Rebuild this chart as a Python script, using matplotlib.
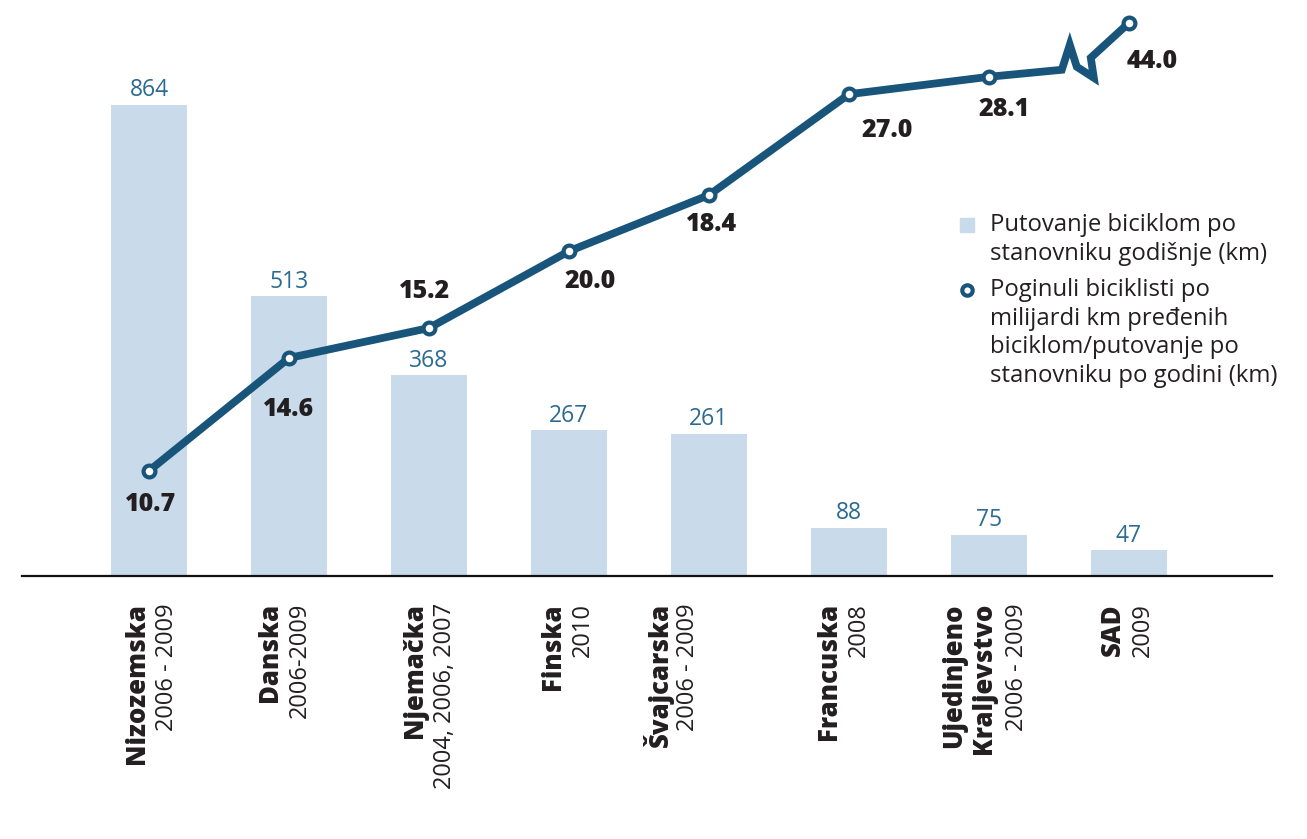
import matplotlib
matplotlib.use("Agg")
import matplotlib.pyplot as plt
from matplotlib.lines import Line2D
import matplotlib.transforms as mtransforms
import numpy as np

# ---- data ----
countries = ["Nizozemska", "Danska", "Njemačka", "Finska", "Švajcarska",
             "Francuska", "Ujedinjeno\nKraljevstvo", "SAD"]
periods = ["2006 - 2009", "2006-2009", "2004, 2006, 2007", "2010", "2006 - 2009",
           "2008", "2006 - 2009", "2009"]
km_per_capita = [864, 513, 368, 267, 261, 88, 75, 47]
deaths_per_bn_km = [10.7, 14.6, 15.2, 20.0, 18.4, 27.0, 28.1, 44.0]
# plotted height of the (decorative, rank-ordered) line, in bar units
line_level = [193, 400, 455, 596, 699, 884, 916, 1015]

legend_bar = "Putovanje biciklom po\nstanovniku godišnje (km)"
legend_line = ("Poginuli biciklisti po\nmilijardi km pređenih\n"
               "biciklom/putovanje po\nstanovniku po godini (km)")

# ---- styles ----
BAR_C = "#c9daea"
LINE_C = "#19557a"
BAR_TXT = "#2c6a91"
DARK = "#231f20"
FONT = "Open Sans"
HEAVY = 800

plt.rcParams["font.family"] = [FONT, "DejaVu Sans"]

W, H = 1307, 839
fig = plt.figure(figsize=(W / 100, H / 100), dpi=100)
ax = fig.add_axes([22 / W, (H - 576) / H, (1272 - 22) / W, 576 / H])

x = np.arange(len(countries))
ax.bar(x, km_per_capita, width=0.536, color=BAR_C, zorder=1)
ax.set_xlim((22 - 149) / 140, (1272 - 149) / 140)
ax.set_ylim(0, 576 / 0.545)

for s in ["top", "right", "left"]:
    ax.spines[s].set_visible(False)
ax.spines["bottom"].set_linewidth(1.6)
ax.spines["bottom"].set_color("#111111")
ax.set_yticks([])
ax.set_xticks([])

# bar value labels
for xi, v in zip(x, km_per_capita):
    ax.annotate(f"{v}", (xi, v), xytext=(0, 2), textcoords="offset points",
                ha="center", va="bottom", fontsize=16.5, color=BAR_TXT, zorder=3)

# ---- line with break before last point ----
lw = 5.6
ax.plot(x[:-1], line_level[:-1], color=LINE_C, lw=lw, solid_capstyle="butt",
        solid_joinstyle="miter", zorder=4)

# break glyph: anchor a little past the 7th point, offsets in pixels
to_disp = ax.transData.transform
to_data = ax.transData.inverted().transform
p7 = to_disp((x[-2], line_level[-2]))
p8 = to_disp((x[-1], line_level[-1]))
anchor = np.array([p7[0] + 0.52 * (p8[0] - p7[0]), p7[1] + 7])
zig = np.array([(0, 0), (8, 25), (15, 3), (32, -8), (29, 12)], dtype=float)
pts_disp = np.vstack([p7, anchor + zig, p8])
pts = to_data(pts_disp)
ax.plot(pts[:, 0], pts[:, 1], color=LINE_C, lw=lw, solid_joinstyle="miter",
        solid_capstyle="butt", zorder=4)

ax.plot(x, line_level, ls="none", marker="o", ms=8.5, mew=3.0,
        mfc="white", mec=LINE_C, zorder=5)

# value labels for the line (offsets in pixels -> points)
lab_off_px = [(2, -34), (0, -52), (-4, 37), (21, -30), (3, -29), (38, -36), (15, -33), (23, -39)]
for xi, yl, v, (dx, dy) in zip(x, line_level, deaths_per_bn_km, lab_off_px):
    ax.annotate(f"{v:.1f}", (xi, yl), xytext=(dx * 0.72, dy * 0.72),
                textcoords="offset points", ha="center", va="center",
                fontsize=18, fontweight=HEAVY, color=DARK, zorder=6)

# ---- category labels (rotated) ----
label_shift_px = [3, -4, 1, -1, -36, -5, 0, -1]
trans = mtransforms.blended_transform_factory(ax.transData, ax.transAxes)
for xi, name, per, sh in zip(x, countries, periods, label_shift_px):
    nlines = name.count("\n") + 1
    name_dx = sh - 15
    date_dx = sh + 15
    if nlines > 1:
        name_dx = sh - 20
        date_dx = sh + 28
    ax.annotate(name, (xi, 0), xycoords=trans,
                xytext=(name_dx * 0.72, -27 * 0.72), textcoords="offset points",
                rotation=90, ha="center", va="top", multialignment="right",
                fontsize=18.5, fontweight=HEAVY, color=DARK, linespacing=1.2)
    ax.annotate(per, (xi, 0), xycoords=trans,
                xytext=(date_dx * 0.72, -27 * 0.72), textcoords="offset points",
                rotation=90, ha="center", va="top",
                fontsize=17, color=DARK)

# ---- legend (manual) ----
fig.add_artist(Line2D([967 / W], [1 - 225 / H], transform=fig.transFigure,
                      marker="s", ms=10, color=BAR_C, ls="none"))
fig.add_artist(Line2D([967 / W], [1 - 290 / H], transform=fig.transFigure,
                      marker="o", ms=7.5, mew=3.0, mfc="white", mec=LINE_C, ls="none"))
fig.text(990 / W, 1 - 213 / H, legend_bar, ha="left", va="top",
         fontsize=17.2, color=DARK, linespacing=1.26)
fig.text(990 / W, 1 - 278 / H, legend_line, ha="left", va="top",
         fontsize=17.2, color=DARK, linespacing=1.26)

fig.savefig("out.png", dpi=100)
